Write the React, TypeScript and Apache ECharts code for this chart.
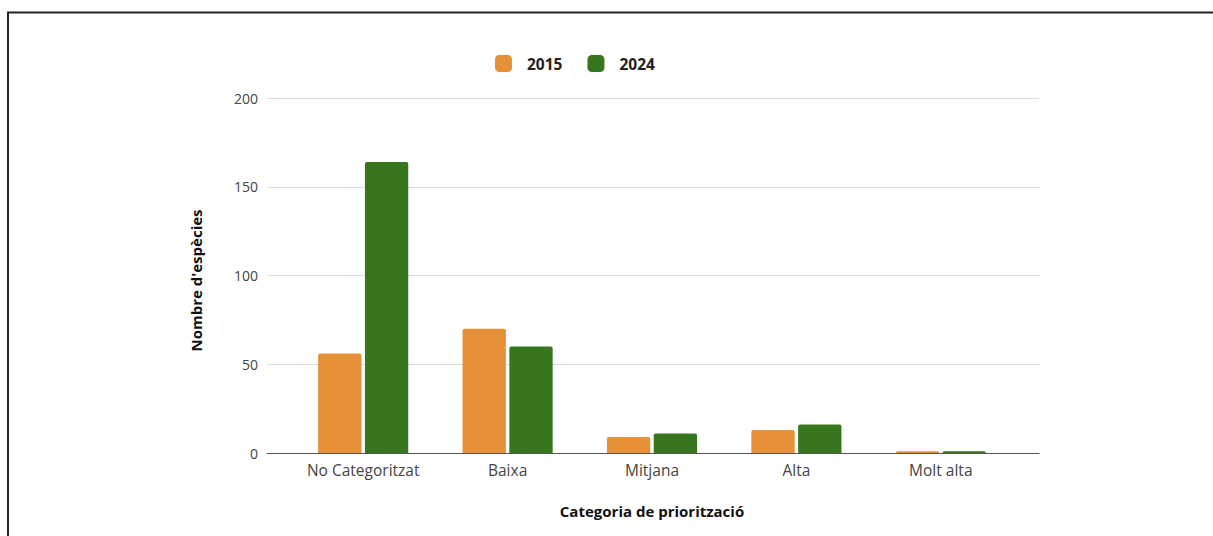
import React, { useEffect, useRef } from "react";
import * as echarts from "echarts";

const categories = ["No Categoritzat", "Baixa", "Mitjana", "Alta", "Molt alta"];
const values2015 = [56, 70, 9, 13, 1];
const values2024 = [164, 60, 11, 16, 1];
const seriesNames = ["2015", "2024"];
const colors = ["#E69138", "#38761D"];

export default function App() {
  const ref = useRef<HTMLDivElement>(null);
  useEffect(() => {
    if (!ref.current) return;
    const chart = echarts.init(ref.current, null, { renderer: "svg" });
    const font = "'Open Sans', Lato, sans-serif";
    chart.setOption({
      animation: false,
      backgroundColor: "#ffffff",
      textStyle: { fontFamily: font },
      legend: {
        top: 50,
        left: 490,
        itemWidth: 17,
        itemHeight: 17,
        itemGap: 25,
        icon: "roundRect",
        data: seriesNames,
        textStyle: {
          fontFamily: font,
          fontSize: 15.5,
          fontWeight: "bold",
          color: "#222",
          padding: [0, 0, 0, 10],
        },
      },
      grid: [
        { left: 267, right: 174, top: 98, bottom: 83 },
        { left: 291, right: 200, top: 98, bottom: 83 },
      ],
      xAxis: [
        {
          type: "value",
          gridIndex: 0,
          min: 0,
          max: 1,
          axisLine: { show: true, onZero: false, lineStyle: { color: "#555", width: 1 } },
          axisTick: { show: false },
          axisLabel: { show: false },
          splitLine: { show: false },
        },
        {
          type: "category",
          gridIndex: 1,
          data: categories,
          axisLine: { show: false },
          axisTick: { show: false },
          axisLabel: { color: "#444", fontSize: 15.5, margin: 9, interval: 0, fontFamily: font },
          name: "Categoria de priorització",
          nameLocation: "middle",
          nameGap: 50,
          nameTextStyle: { fontFamily: font, fontSize: 15, fontWeight: "bold", color: "#111" },
        },
      ],
      yAxis: [
        {
          type: "value",
          gridIndex: 0,
          min: 0,
          max: 200,
          interval: 50,
          axisLine: { show: false },
          axisTick: { show: false },
          axisLabel: { color: "#444", fontSize: 14, margin: 9, fontFamily: font },
          splitLine: { lineStyle: { color: "#dcdcdc", width: 1 } },
          name: "Nombre d'espècies",
          nameLocation: "middle",
          nameGap: 64,
          nameTextStyle: {
            fontFamily: font,
            fontSize: 15,
            fontWeight: "bold",
            color: "#111",
            padding: [0, 10, 0, 0],
          },
        },
        {
          type: "value",
          gridIndex: 1,
          min: 0,
          max: 200,
          interval: 50,
          show: false,
          splitLine: { show: false },
        },
      ],
      series: [
        {
          name: seriesNames[0],
          type: "bar",
          xAxisIndex: 1,
          yAxisIndex: 1,
          data: values2015,
          barWidth: "30%",
          barGap: "8%",
          itemStyle: { color: colors[0], borderRadius: [2, 2, 0, 0] },
        },
        {
          name: seriesNames[1],
          type: "bar",
          xAxisIndex: 1,
          yAxisIndex: 1,
          data: values2024,
          barWidth: "30%",
          barGap: "8%",
          itemStyle: { color: colors[1], borderRadius: [2, 2, 0, 0] },
        },
      ],
      graphic: [
        { type: "line", shape: { x1: 7, y1: 12.5, x2: 1213, y2: 12.5 }, style: { stroke: "#222", lineWidth: 2 } },
        { type: "line", shape: { x1: 8, y1: 12, x2: 8, y2: 536 }, style: { stroke: "#222", lineWidth: 2 } },
      ],
    });
    return () => chart.dispose();
  }, []);
  return (
    <div
      ref={ref}
      style={{ position: "fixed", left: 0, top: 0, width: 1213, height: 536 }}
    />
  );
}
